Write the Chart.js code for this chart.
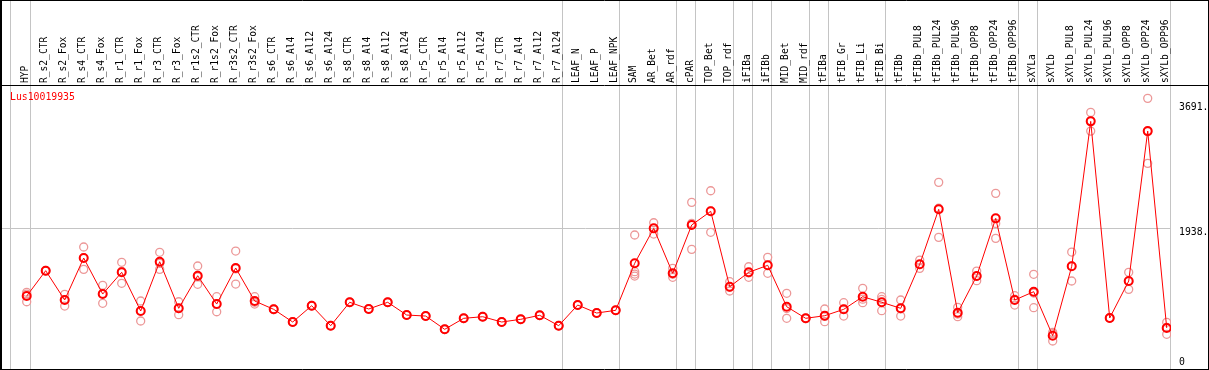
<!DOCTYPE html>
<html>
<head>
<meta charset="utf-8">
<script src="https://cdn.jsdelivr.net/npm/chart.js@4.4.1/dist/chart.umd.min.js"></script>
<style>
  html, body { margin: 0; padding: 0; background: #ffffff; }
  #wrap { width: 1209px; height: 370px; }
</style>
</head>
<body>
<div id="wrap"><canvas id="c" width="1209" height="370"></canvas></div>
<script>
const geneName = "Lus10019935";

const categories = [
  "HYP", "R_s2_CTR", "R_s2_Fox", "R_s4_CTR", "R_s4_Fox", "R_r1_CTR", "R_r1_Fox",
  "R_r3_CTR", "R_r3_Fox", "R_r1s2_CTR", "R_r1s2_Fox", "R_r3s2_CTR", "R_r3s2_Fox",
  "R_s6_CTR", "R_s6_Al4", "R_s6_Al12", "R_s6_Al24", "R_s8_CTR", "R_s8_Al4", "R_s8_Al12",
  "R_s8_Al24", "R_r5_CTR", "R_r5_Al4", "R_r5_Al12", "R_r5_Al24", "R_r7_CTR", "R_r7_Al4",
  "R_r7_Al12", "R_r7_Al24", "LEAF_N", "LEAF_P", "LEAF_NPK", "SAM", "AR_Bet", "AR_rdf",
  "cPAR", "TOP_Bet", "TOP_rdf", "iFIBa", "iFIBb", "MID_Bet", "MID_rdf", "tFIBa", "tFIB_Gr",
  "tFIB_Li", "tFIB_Bi", "tFIBb", "tFIBb_PUL8", "tFIBb_PUL24", "tFIBb_PUL96", "tFIBb_OPP8",
  "tFIBb_OPP24", "tFIBb_OPP96", "sXYLa", "sXYLb", "sXYLb_PUL8", "sXYLb_PUL24", "sXYLb_PUL96",
  "sXYLb_OPP8", "sXYLb_OPP24", "sXYLb_OPP96"
];

const means = [
  928, 1306, 869, 1495, 958, 1282, 705, 1440, 745, 1231, 809, 1346, 854,
  730, 541, 784, 486, 835, 735, 835, 645, 630, 432, 596, 620, 541, 581, 641, 486,
  794, 675, 715, 1416, 1937, 1267, 1987, 2191, 1067, 1282, 1386, 769, 596,
  635, 730, 918, 835, 745, 1401, 2221, 680, 1227, 2086, 869,
  993, 337, 1371, 3532, 601, 1152, 3387, 452
];

const replicates = [
  [984, 843, 957], [1300, 1312, 1306], [954, 779, 874], [1659, 1326, 1500],
  [1088, 820, 966], [1431, 1118, 1297], [854, 556, 705], [1580, 1326, 1414],
  [843, 650, 742], [1376, 1103, 1214], [918, 694, 815], [1599, 1107, 1332],
  [918, 809, 835], [735, 725, 730], [545, 537, 541], [788, 780, 784],
  [490, 482, 486], [838, 832, 835], [738, 732, 735], [838, 832, 835],
  [648, 642, 645], [633, 627, 630], [435, 429, 432], [599, 593, 596],
  [623, 617, 620], [544, 538, 541], [584, 578, 581], [644, 638, 641],
  [489, 483, 486], [797, 791, 794], [678, 672, 675], [718, 712, 715],
  [1838, 1291, 1256, 1226], [2021, 1852, 1938], [1341, 1207, 1253], [2325, 1624, 2012],
  [2498, 1878, 2197], [1142, 1003, 1056], [1365, 1207, 1274], [1505, 1267, 1386],
  [969, 596, 742], [600, 592, 596], [735, 546, 624], [829, 630, 731],
  [1043, 829, 882], [918, 710, 877], [869, 630, 736], [1465, 1341, 1397],
  [2623, 1803, 2237], [760, 620, 660], [1301, 1157, 1223], [2459, 1788, 2011],
  [933, 794, 880], [1252, 754, 973], [387, 258, 366], [1584, 1152, 1377],
  [3666, 3387, 3543], [605, 597, 601], [1282, 1028, 1146], [3875, 2906, 3380],
  [537, 358, 461]
];

// indices of the last category of each group (a separator is drawn after it)
const groupEnds = [0, 28, 31, 34, 35, 37, 38, 39, 41, 42, 45, 52, 53, 60];

const yTickValues = [0, 1938, 3691];
const yTickLabels = ["0", "1938.", "3691."];
const gridValue = 1938;

// ---- layout / style ----
const LABEL_FONT = '9.6px "DejaVu Sans Mono", "Liberation Mono", monospace';
const TEXT_FONT = '9.8px "DejaVu Sans Mono", "Liberation Mono", monospace';
const GRAY = '#c4c4c4';
const PAD = { left: 11, right: 38, top: 85, bottom: 1 };
const X_MIN = -0.8263, X_MAX = 60.226;
const Y_MIN = -159.5, Y_MAX = 4074.2;
const SEP_OFFSET = 0.226;

const framePlugin = {
  id: 'frame',
  beforeDraw(chart) {
    const ctx = chart.ctx;
    const W = chart.width, H = chart.height;
    const a = chart.chartArea;
    const xs = chart.scales.x, ys = chart.scales.y;
    ctx.save();
    ctx.fillStyle = '#ffffff';
    ctx.fillRect(0, 0, W, H);
    ctx.strokeStyle = GRAY;
    ctx.lineWidth = 1;
    ctx.beginPath();
    const xl = Math.round(a.left) - 0.5;
    ctx.moveTo(xl, 0); ctx.lineTo(xl, H);
    groupEnds.forEach(i => {
      const x = Math.round(xs.getPixelForValue(i + SEP_OFFSET)) - 0.5;
      ctx.moveTo(x, 0); ctx.lineTo(x, H);
    });
    const gy = Math.round(ys.getPixelForValue(gridValue)) + 0.5;
    ctx.moveTo(0, gy); ctx.lineTo(a.right, gy);
    ctx.stroke();
    ctx.restore();
  },
  afterDraw(chart) {
    const ctx = chart.ctx;
    const W = chart.width, H = chart.height;
    const a = chart.chartArea;
    const xs = chart.scales.x, ys = chart.scales.y;
    ctx.save();
    ctx.strokeStyle = '#000000';
    ctx.lineWidth = 1;
    ctx.beginPath();
    ctx.moveTo(0, 0.5); ctx.lineTo(W, 0.5);
    ctx.moveTo(0, Math.round(a.top) + 0.5); ctx.lineTo(W, Math.round(a.top) + 0.5);
    ctx.moveTo(0, H - 0.5); ctx.lineTo(W, H - 0.5);
    ctx.moveTo(W - 0.5, 0); ctx.lineTo(W - 0.5, H);
    ctx.stroke();
    ctx.lineWidth = 2;
    ctx.beginPath();
    ctx.moveTo(1, 0); ctx.lineTo(1, H);
    ctx.stroke();

    ctx.fillStyle = '#000000';
    ctx.font = LABEL_FONT;
    ctx.textAlign = 'left';
    ctx.textBaseline = 'middle';
    categories.forEach((lab, i) => {
      const x = xs.getPixelForValue(i) - 1.5;
      ctx.save();
      ctx.translate(x, a.top - 2);
      ctx.rotate(-Math.PI / 2);
      ctx.fillText(lab, 0, 0);
      ctx.restore();
    });

    ctx.fillStyle = '#ff0000';
    ctx.font = TEXT_FONT;
    ctx.textAlign = 'left';
    ctx.textBaseline = 'middle';
    ctx.fillText(geneName, 10, a.top + 12.5);

    ctx.fillStyle = '#000000';
    yTickValues.forEach((v, k) => {
      const y = ys.getPixelForValue(v);
      const dy = (k === yTickValues.length - 1) ? -3.3 : 4.2;
      ctx.fillText(yTickLabels[k], a.right + 8, y + dy);
    });
    ctx.restore();
  }
};

new Chart(document.getElementById('c').getContext('2d'), {
  type: 'line',
  data: {
    datasets: [
      {
        type: 'line',
        label: 'mean',
        data: means.map((v, i) => ({ x: i, y: v })),
        borderColor: '#ff0000',
        borderWidth: 1,
        tension: 0,
        pointRadius: 4,
        pointBorderWidth: 2,
        pointBorderColor: '#ff0000',
        pointBackgroundColor: 'rgba(0,0,0,0)',
        order: 0
      },
      {
        type: 'scatter',
        label: 'replicates',
        data: replicates.flatMap((arr, i) => arr.map(v => ({ x: i, y: v }))),
        showLine: false,
        pointRadius: 4,
        pointBorderWidth: 1.3,
        pointBorderColor: '#ec9898',
        pointBackgroundColor: 'rgba(0,0,0,0)',
        order: 1
      }
    ]
  },
  options: {
    responsive: false,
    animation: false,
    devicePixelRatio: 1,
    layout: { padding: PAD, autoPadding: false },
    scales: {
      x: { type: 'linear', min: X_MIN, max: X_MAX, display: false },
      y: { type: 'linear', min: Y_MIN, max: Y_MAX, display: false }
    },
    plugins: {
      legend: { display: false },
      tooltip: { enabled: false },
      title: { display: false }
    }
  },
  plugins: [framePlugin]
});
</script>
</body>
</html>
